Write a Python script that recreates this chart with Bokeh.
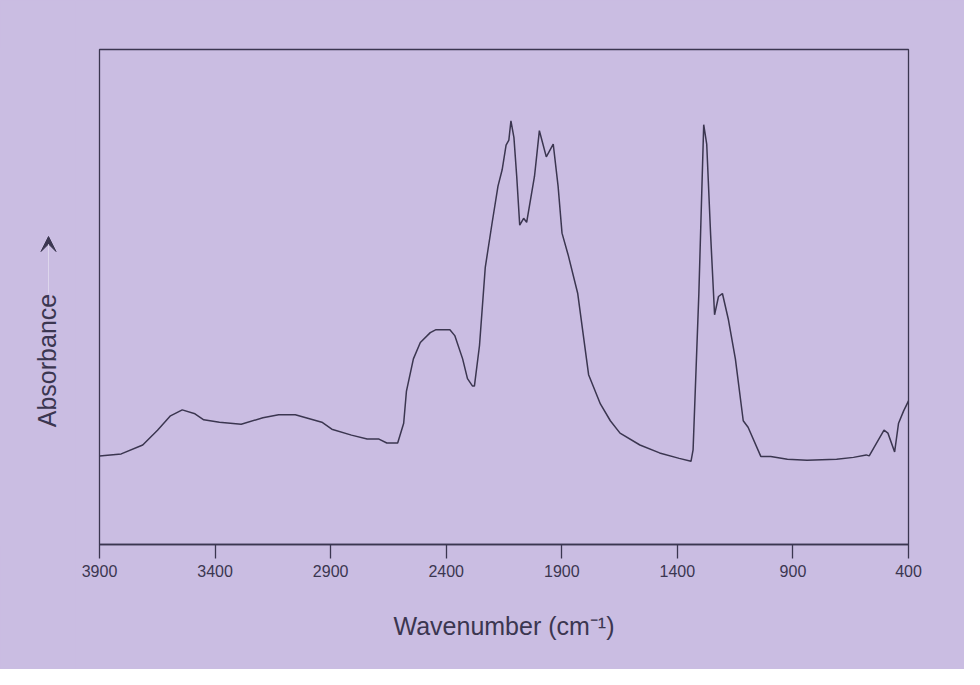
import math
from bokeh.plotting import figure
from bokeh.layouts import row
from bokeh.models import Range1d, FixedTicker, Arrow, VeeHead
from bokeh.core.properties import value
from bokeh.embed import file_html
from bokeh.resources import INLINE

# Spectrum (wavenumber in cm^-1, absorbance in relative units)
wavenumber = [3900, 3806, 3713, 3649, 3593, 3542, 3487, 3449, 3381, 3287, 3193, 3125,
              3053, 2938, 2895, 2810, 2742, 2691, 2657, 2610, 2584, 2572, 2542, 2512,
              2469, 2444, 2384, 2363, 2329, 2308, 2286, 2278, 2256, 2231, 2201, 2176,
              2158, 2141, 2129, 2120, 2107, 2095, 2082, 2065, 2052, 2018, 2009, 1997,
              1984, 1967, 1937, 1916, 1899, 1873, 1831, 1784, 1733, 1690, 1648, 1562,
              1477, 1392, 1341, 1332, 1307, 1286, 1273, 1256, 1239, 1222, 1205, 1179, 1149,
              1115, 1094, 1039, 996, 924, 839, 711, 638, 583, 570, 506, 489, 460, 443,
              421, 400]
absorbance = [0.179, 0.183, 0.201, 0.231, 0.260, 0.272, 0.264, 0.252, 0.247, 0.243, 0.256, 0.262,
              0.262, 0.247, 0.233, 0.221, 0.213, 0.213, 0.205, 0.205, 0.245, 0.310, 0.375, 0.408,
              0.428, 0.434, 0.434, 0.422, 0.375, 0.335, 0.320, 0.320, 0.402, 0.560, 0.651, 0.724,
              0.757, 0.807, 0.817, 0.856, 0.822, 0.744, 0.645, 0.659, 0.651, 0.744, 0.783, 0.836,
              0.813, 0.783, 0.809, 0.724, 0.629, 0.586, 0.507, 0.343, 0.284, 0.250, 0.225, 0.201,
              0.185, 0.174, 0.168, 0.191, 0.507, 0.848, 0.809, 0.625, 0.464, 0.501, 0.507, 0.454, 0.375,
              0.250, 0.237, 0.178, 0.178, 0.172, 0.170, 0.172, 0.176, 0.181, 0.179, 0.231, 0.225,
              0.187, 0.245, 0.270, 0.290]

x_ticks = [3900, 3400, 2900, 2400, 1900, 1400, 900, 400]
x_label = "Wavenumber (cm\u207b\u00b9)"
y_label = "Absorbance"

BG = "#cabde2"
INK = "#3b3650"
FONT = "Liberation Sans"
H = 669
LEFT_W = 75
TOP, BOTTOM = 49, 125

# ---- narrow left panel holding the y-axis title and its arrow ----
# its y range is expressed in pixels from the bottom of the figure
lp = figure(width=LEFT_W, height=H, output_backend="svg", toolbar_location=None,
            x_range=Range1d(0, LEFT_W), y_range=Range1d(BOTTOM, H - TOP),
            min_border_left=0, min_border_right=0,
            min_border_top=TOP, min_border_bottom=BOTTOM)
lp.axis.visible = False
lp.grid.visible = False
lp.outline_line_color = BG
lp.outline_line_width = 4
lp.background_fill_color = BG
lp.border_fill_color = BG
lp.text(x=[46], y=[H - 360], text=[y_label], angle=math.pi / 2,
        text_font=value(FONT), text_font_size="25px", text_color=INK,
        text_align="center", text_baseline="middle")
lp.add_layout(Arrow(x_start=48, y_start=H - 293, x_end=48, y_end=H - 236,
                    line_color="#ddd6ec", line_width=1,
                    end=VeeHead(size=15, fill_color=INK, line_color=INK)))

# ---- main spectrum plot ----
p = figure(width=964 - LEFT_W, height=H, output_backend="svg", toolbar_location=None,
           x_range=Range1d(3900, 400), y_range=Range1d(0, 1))
p.background_fill_color = BG
p.border_fill_color = BG
p.outline_line_color = INK
p.outline_line_width = 1.3
p.grid.visible = False
p.min_border_left = 99 - LEFT_W
p.min_border_right = 56
p.min_border_top = TOP
p.min_border_bottom = BOTTOM

p.yaxis.visible = False

ax = p.xaxis[0]
ax.ticker = FixedTicker(ticks=x_ticks)
ax.minor_tick_line_color = None
ax.major_tick_in = 0
ax.major_tick_out = 14
ax.major_tick_line_color = INK
ax.major_tick_line_width = 1.3
ax.axis_line_color = INK
ax.axis_line_width = 1.3
ax.major_label_text_font = FONT
ax.major_label_text_font_size = "16px"
ax.major_label_text_color = INK
ax.major_label_standoff = 6
ax.axis_label = x_label
ax.axis_label_text_font = FONT
ax.axis_label_text_font_size = "25px"
ax.axis_label_text_font_style = "normal"
ax.axis_label_text_color = INK
ax.axis_label_standoff = 32

p.line(wavenumber, absorbance, line_color=INK, line_width=1.5)

layout = row(lp, p, spacing=0, styles={"background-color": BG})
open("out.html", "w").write(file_html(layout, INLINE))
